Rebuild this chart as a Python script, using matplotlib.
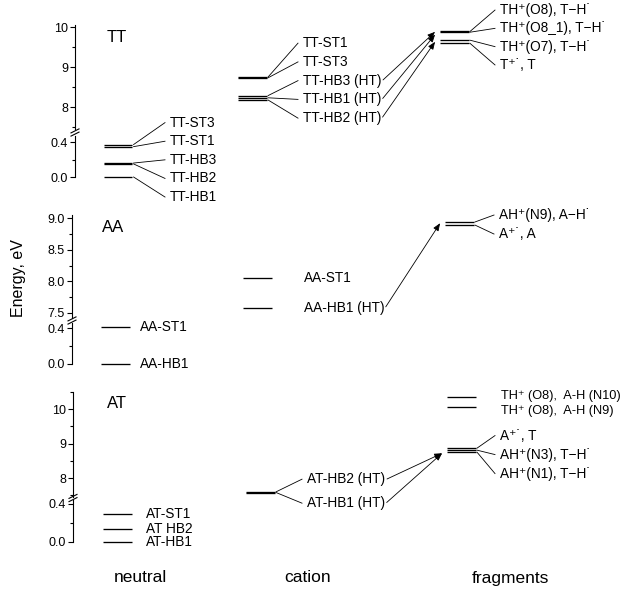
import numpy as np
import matplotlib
matplotlib.use("Agg")
import matplotlib.pyplot as plt
from matplotlib.lines import Line2D
from matplotlib.ticker import MultipleLocator, FormatStrFormatter

plt.rcParams['font.family'] = ['Liberation Sans', 'DejaVu Sans']

W, H = 629, 590

columns = ["neutral", "cation", "fragments"]
ylabel = "Energy, eV"

# ---------------- TT dimer ----------------
tt_neutral_E = [0.372, 0.348, 0.16, 0.15, 0.00]
tt_neutral_names = ["TT-ST3", "TT-ST1", "TT-HB3", "TT-HB2", "TT-HB1"]
tt_cation_E = [8.75, 8.73, 8.285, 8.23, 8.175]
tt_cation_names = ["TT-ST1", "TT-ST3", "TT-HB3 (HT)", "TT-HB1 (HT)", "TT-HB2 (HT)"]
tt_frag_E = [9.89, 9.87, 9.67, 9.59]
tt_frag_names = ["TH⁺(O8), T−H˙", "TH⁺(O8_1), T−H˙", "TH⁺(O7), T−H˙", "T⁺˙, T"]
# dissociation paths: cation label -> fragment energy
tt_path_from = ["TT-HB3 (HT)", "TT-HB1 (HT)", "TT-HB2 (HT)"]
tt_path_to = [9.88, 9.81, 9.63]

# ---------------- AA dimer ----------------
aa_neutral_E = [0.41, 0.00]
aa_neutral_names = ["AA-ST1", "AA-HB1"]
aa_cation_E = [8.05, 7.58]
aa_cation_names = ["AA-ST1", "AA-HB1 (HT)"]
aa_frag_E = [8.94, 8.89]
aa_frag_names = ["AH⁺(N9), A−H˙", "A⁺˙, A"]
aa_path_from = ["AA-HB1 (HT)"]
aa_path_to = [8.92]

# ---------------- AT dimer ----------------
at_neutral_E = [0.29, 0.135, 0.00]
at_neutral_names = ["AT-ST1", "AT HB2", "AT-HB1"]
at_cation_E = [7.60, 7.58]
at_cation_names = ["AT-HB2 (HT)", "AT-HB1 (HT)"]
at_frag_hi_E = [10.35, 10.06]
at_frag_hi_names = ["TH⁺ (O8),  A-H (N10)", "TH⁺ (O8),  A-H (N9)"]
at_frag_E = [8.87, 8.81, 8.75]
at_frag_names = ["A⁺˙, T", "AH⁺(N3), T−H˙", "AH⁺(N1), T−H˙"]
at_path_from = ["AT-HB2 (HT)", "AT-HB1 (HT)"]
at_path_to = [8.72, 8.72]

# ---------------- styling ----------------
LBL_FS = 9.8
TICK_FS = 9
HALF = 0.105          # half width of a level bar (x units)
PX_PER_X = 134.0      # horizontal pixels per x unit
X0_PX = 118.0         # pixel position of x = 0
LEVEL_LW = 0.95
THIN_LW = 0.6

fig = plt.figure(figsize=(W / 100, H / 100), dpi=100)


def add_axes_px(x0, y_top, x1, y_bot):
    return fig.add_axes([x0 / W, 1 - y_bot / H, (x1 - x0) / W, (y_bot - y_top) / H])


def style_axis(ax, spine_px, ylim, major, minor, fmt):
    ax.set_xlim((spine_px - X0_PX) / PX_PER_X, (W - X0_PX) / PX_PER_X)
    ax.set_ylim(*ylim)
    ax.set_facecolor('none')
    for s in ['top', 'right', 'bottom']:
        ax.spines[s].set_visible(False)
    ax.spines['left'].set_linewidth(0.8)
    ax.set_xticks([])
    ax.yaxis.set_major_locator(MultipleLocator(major))
    ax.yaxis.set_minor_locator(MultipleLocator(minor))
    ax.yaxis.set_major_formatter(FormatStrFormatter(fmt))
    ax.tick_params(axis='y', which='major', direction='out', length=3.5, width=0.8,
                   labelsize=TICK_FS, pad=1.5)
    ax.tick_params(axis='y', which='minor', direction='out', length=2, width=0.8)


def break_marks(spine_px, y_px):
    for dy in (-1.6, 1.6):
        yc = y_px + dy
        fig.add_artist(Line2D([(spine_px - 4) / W, (spine_px + 4) / W],
                              [1 - (yc + 2) / H, 1 - (yc - 2) / H],
                              transform=fig.transFigure, lw=0.8, color='k'))


def disp(ax, x, e):
    return ax.transData.transform((x, e))


def level_group(ax, xc, energies, names, text_x, spacing=None, shift=0.0, link=True,
                fs=LBL_FS):
    ax.hlines(energies, xc - HALF, xc + HALF, colors='k', lw=LEVEL_LW, clip_on=False)
    ys = [disp(ax, xc, e)[1] for e in energies]
    xr = disp(ax, xc + HALF, 0)[0]
    n = len(energies)
    if spacing is None:
        label_ys = ys
    else:
        c = np.mean(ys) - shift
        label_ys = [c + ((n - 1) / 2 - i) * spacing for i in range(n)]
    texts = {}
    for y0, yl, name in zip(ys, label_ys, names):
        t = fig.text(text_x / W, yl / H, name, ha='left', va='center', fontsize=fs)
        if link:
            fig.add_artist(Line2D([(xr + 1.5) / W, (text_x - 5) / W], [y0 / H, yl / H],
                                  transform=fig.transFigure, lw=THIN_LW, color='k'))
        texts[name] = t
    return texts


def paths(ax, texts, sources, targets, xc):
    for src, e in zip(sources, targets):
        ax.annotate('', xy=(xc - HALF - 0.04, e), xycoords='data',
                    xytext=(1.0, 0.45), textcoords=texts[src],
                    arrowprops=dict(arrowstyle='-|>,head_length=0.5,head_width=0.2',
                                    lw=THIN_LW, color='k', shrinkA=1.5, shrinkB=0,
                                    mutation_scale=9),
                    annotation_clip=False)


def px_x(px):
    return (px - X0_PX) / PX_PER_X


# ======== TT panel ========
sp = 75
tt_up = add_axes_px(sp, 25, W, 129)
style_axis(tt_up, sp, (7.45, 10.05), 1, 0.5, '%d')
tt_lo = add_axes_px(sp, 136, W, 177)
style_axis(tt_lo, sp, (0.0, 0.47), 0.4, 0.2, '%.1f')
break_marks(sp, 132.5)
fig.text(107 / W, 1 - 38 / H, "TT", fontsize=12, ha='left', va='center')

level_group(tt_lo, px_x(118), tt_neutral_E, tt_neutral_names, 170, spacing=18.6, shift=0.8)
tt_ct = level_group(tt_up, px_x(252.5), tt_cation_E, tt_cation_names, 303, spacing=18.75, shift=-9)
level_group(tt_up, px_x(454.5), tt_frag_E, tt_frag_names, 500, spacing=18.3, shift=0.7)
paths(tt_up, tt_ct, tt_path_from, tt_path_to, px_x(454.5))

# ======== AA panel ========
sp = 72
aa_up = add_axes_px(sp, 215, W, 318)
style_axis(aa_up, sp, (7.42, 9.05), 0.5, 0.25, '%.1f')
aa_lo = add_axes_px(sp, 323, W, 364)
style_axis(aa_lo, sp, (0.0, 0.46), 0.4, 0.2, '%.1f')
break_marks(sp, 320.5)
fig.text(102 / W, 1 - 227 / H, "AA", fontsize=12, ha='left', va='center')

level_group(aa_lo, px_x(115.5), aa_neutral_E, aa_neutral_names, 140, link=False)
aa_ct = level_group(aa_up, px_x(257.5), aa_cation_E, aa_cation_names, 304, link=False)
level_group(aa_up, px_x(459.5), aa_frag_E, aa_frag_names, 499, spacing=19, shift=1)
paths(aa_up, aa_ct, aa_path_from, aa_path_to, px_x(459.5))

# ======== AT panel ========
sp = 73
at_up = add_axes_px(sp, 392, W, 497)
style_axis(at_up, sp, (7.45, 10.5), 1, 0.5, '%d')
at_lo = add_axes_px(sp, 500, W, 542)
style_axis(at_lo, sp, (0.0, 0.44), 0.4, 0.2, '%.1f')
break_marks(sp, 498)
fig.text(107 / W, 1 - 404 / H, "AT", fontsize=12, ha='left', va='center')

level_group(at_lo, px_x(117.5), at_neutral_E, at_neutral_names, 146, link=False)
at_ct = level_group(at_up, px_x(260.5), at_cation_E, at_cation_names, 307, spacing=24, shift=-1)
level_group(at_up, px_x(461.5), at_frag_hi_E, at_frag_hi_names, 501, spacing=15, shift=1.5,
            link=False, fs=9.2)
level_group(at_up, px_x(461.5), at_frag_E, at_frag_names, 500, spacing=19, shift=4.4)
paths(at_up, at_ct, at_path_from, at_path_to, px_x(461.5))

# ======== common labels ========
for name, xpx in zip(columns, [140, 308, 510]):
    fig.text(xpx / W, 1 - 578 / H, name, fontsize=12.5, ha='center', va='center')
fig.text(19 / W, 1 - 278 / H, ylabel, fontsize=11.5, rotation=90, ha='center', va='center')

fig.savefig("out.png", dpi=100)
